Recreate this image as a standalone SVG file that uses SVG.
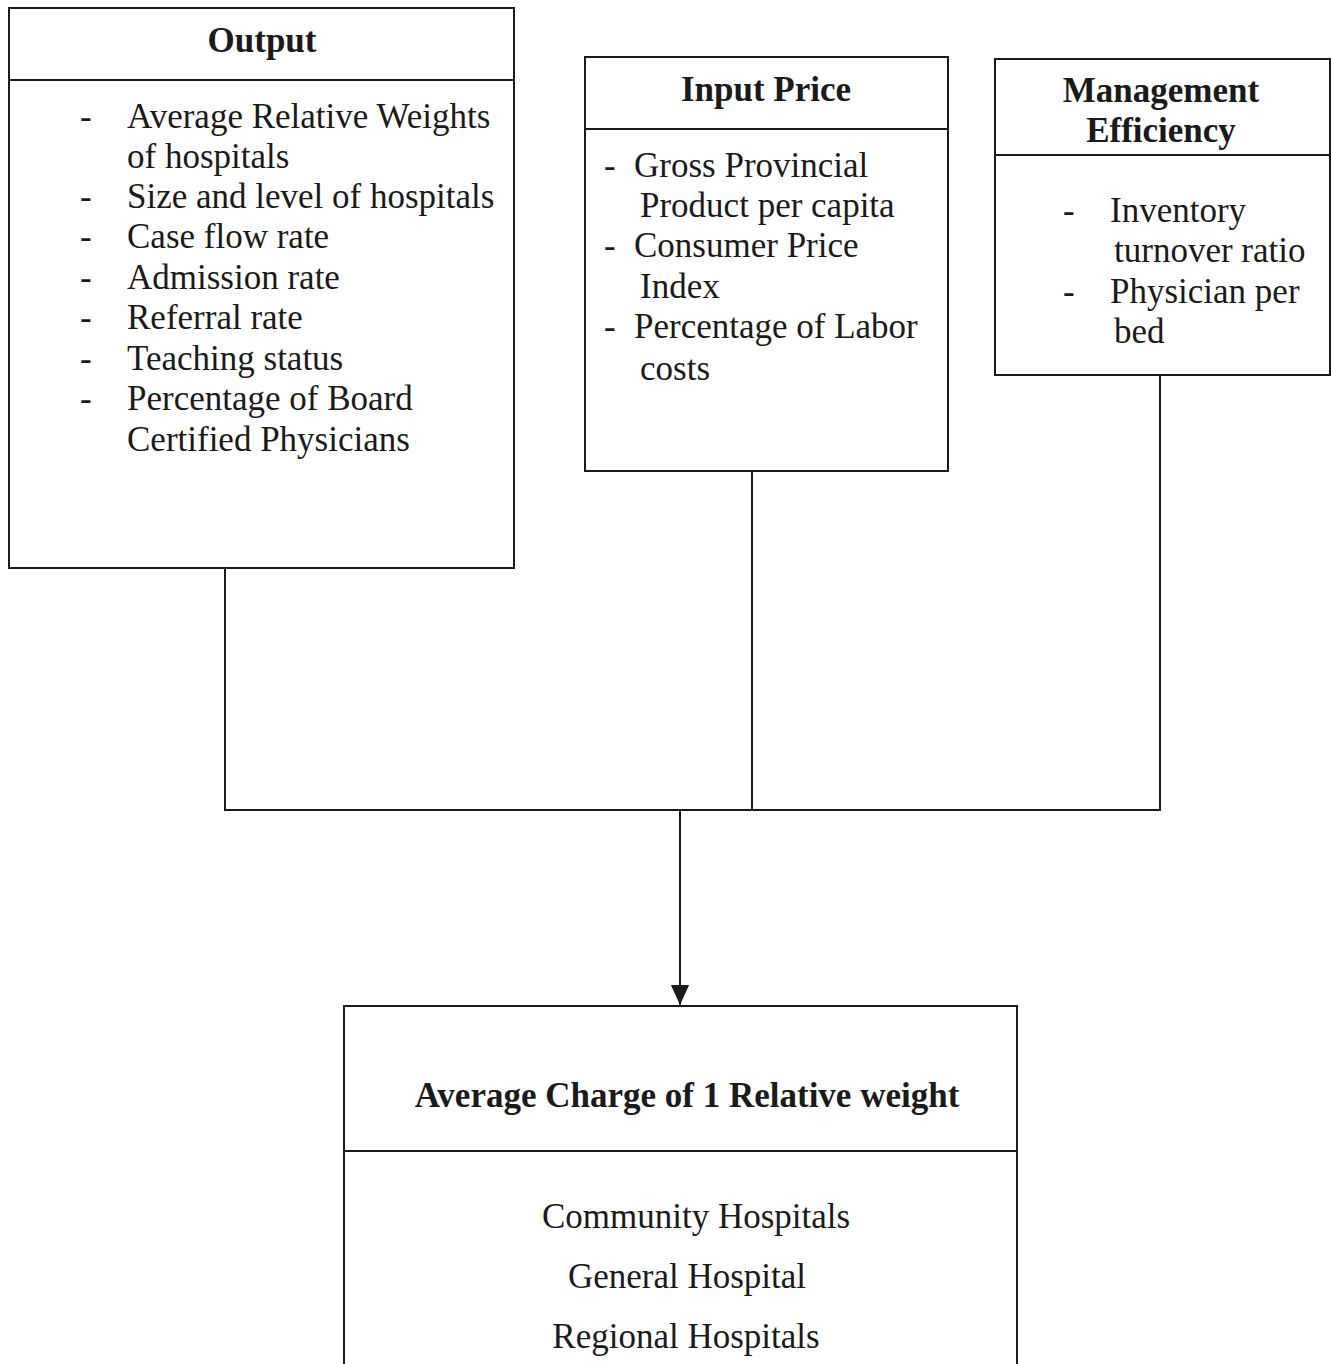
<svg xmlns="http://www.w3.org/2000/svg" width="1332" height="1364" viewBox="0 0 1332 1364">
<defs>
<style>
.box{fill:#fff;stroke:#1a1a1a;stroke-width:2}
.ln{stroke:#1a1a1a;stroke-width:2;fill:none}
.t{font-family:"Liberation Serif","Times New Roman",serif;font-size:35px;fill:#1a1a1a}
.b{font-weight:bold}
.c{text-anchor:middle}
</style>
<marker id="arr" markerWidth="20" markerHeight="22" refX="22" refY="10" orient="auto" markerUnits="userSpaceOnUse" viewBox="0 0 22 20">
<path d="M0,0 L22,10 L0,20 Z" fill="#1a1a1a"/>
</marker>
</defs>
<rect width="1332" height="1364" fill="#fff"/>
<g id="connectors">
<polyline class="ln" points="225,568 225,810 1160,810 1160,375"/>
<line class="ln" x1="752" y1="471" x2="752" y2="810"/>
<line class="ln" x1="680" y1="810" x2="680" y2="1005" marker-end="url(#arr)"/>
</g>
<g id="output">
<rect class="box" x="9" y="8" width="505" height="560"/>
<line class="ln" x1="9" y1="80" x2="514" y2="80"/>
<text class="t b c" x="262" y="52">Output</text>
<g class="t">
<text x="80" y="128">-</text><text x="127" y="128">Average Relative Weights</text>
<text x="127" y="168">of hospitals</text>
<text x="80" y="208">-</text><text x="127" y="208">Size and level of hospitals</text>
<text x="80" y="248">-</text><text x="127" y="248">Case flow rate</text>
<text x="80" y="289">-</text><text x="127" y="289">Admission rate</text>
<text x="80" y="329">-</text><text x="127" y="329">Referral rate</text>
<text x="80" y="370">-</text><text x="127" y="370">Teaching status</text>
<text x="80" y="410">-</text><text x="127" y="410">Percentage of Board</text>
<text x="127" y="451">Certified Physicians</text>
</g>
</g>
<g id="input-price">
<rect class="box" x="585" y="57" width="363" height="414"/>
<line class="ln" x1="585" y1="129" x2="948" y2="129"/>
<text class="t b c" x="766" y="101">Input Price</text>
<g class="t">
<text x="604" y="177">-</text><text x="634" y="177">Gross Provincial</text>
<text x="640" y="217">Product per capita</text>
<text x="604" y="257">-</text><text x="634" y="257">Consumer Price</text>
<text x="640" y="298">Index</text>
<text x="604" y="338">-</text><text x="634" y="338">Percentage of Labor</text>
<text x="640" y="380">costs</text>
</g>
</g>
<g id="management-efficiency">
<rect class="box" x="995" y="59" width="335" height="316"/>
<line class="ln" x1="995" y1="155" x2="1330" y2="155"/>
<text class="t b c" x="1161" y="102">Management</text>
<text class="t b c" x="1161" y="142">Efficiency</text>
<g class="t">
<text x="1063" y="222">-</text><text x="1110" y="222">Inventory</text>
<text x="1114" y="262">turnover ratio</text>
<text x="1063" y="303">-</text><text x="1110" y="303">Physician per</text>
<text x="1114" y="343">bed</text>
</g>
</g>
<g id="average-charge">
<rect class="box" x="344" y="1006" width="673" height="370"/>
<line class="ln" x1="344" y1="1151" x2="1017" y2="1151"/>
<text class="t b c" x="687" y="1107">Average Charge of 1 Relative weight</text>
<text class="t c" x="696" y="1228">Community Hospitals</text>
<text class="t c" x="687" y="1288">General Hospital</text>
<text class="t c" x="686" y="1348">Regional Hospitals</text>
</g>
</svg>
